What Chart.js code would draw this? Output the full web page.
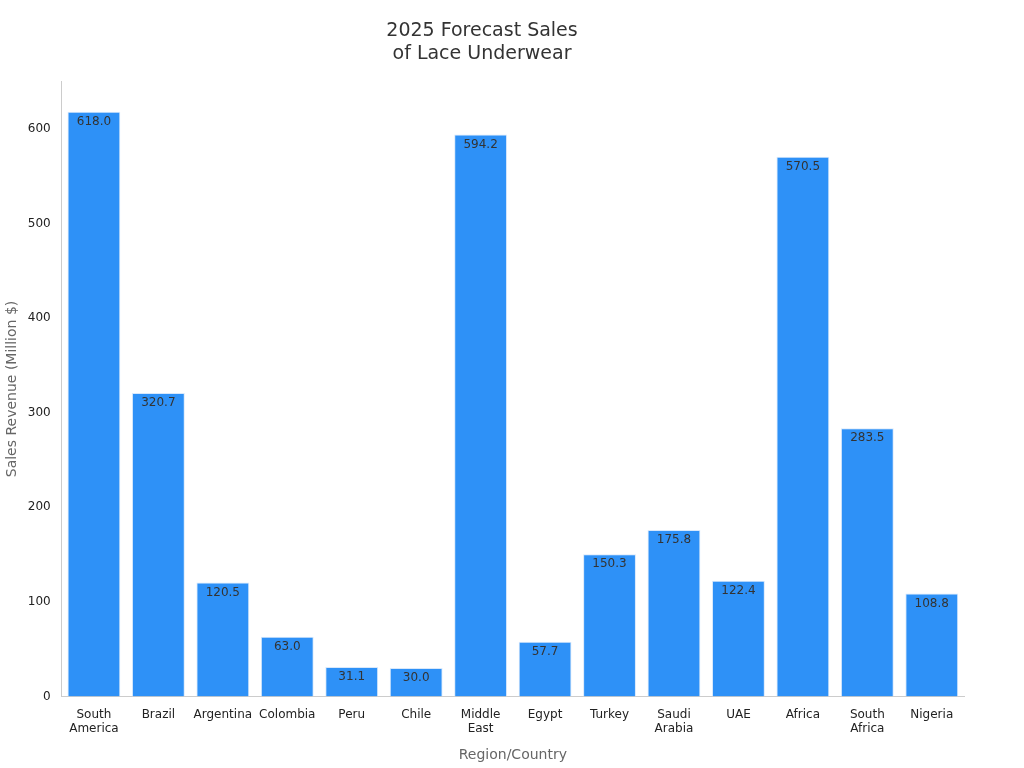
<!DOCTYPE html>
<html lang="en">
<head>
    <meta charset="UTF-8">
    <title>2025 Forecast Sales of Lace Underwear</title>
    <style>
        body { margin: 0; background: #fff; font-family: "DejaVu Sans", sans-serif; }
        .wrap { width: 1024px; height: 768px; }
    </style>
</head>
<body>
    <div class="wrap"><canvas id="chart"></canvas></div>
    <script src="https://cdn.jsdelivr.net/npm/chart.js"></script>
    <script>
        const regions = [['South', 'America'], 'Brazil', 'Argentina', 'Colombia', 'Peru', 'Chile',
            ['Middle', 'East'], 'Egypt', 'Turkey', ['Saudi', 'Arabia'], 'UAE', 'Africa', ['South', 'Africa'], 'Nigeria'];
        const sales = [618.0, 320.7, 120.5, 63.0, 31.1, 30.0, 594.2, 57.7, 150.3, 175.8, 122.4, 570.5, 283.5, 108.8];

        // draws value labels just inside the top of each bar
        const valueLabels = {
            id: 'valueLabels',
            afterDatasetsDraw(chart) {
                const ctx = chart.ctx;
                const meta = chart.getDatasetMeta(0);
                ctx.save();
                ctx.font = '12px "DejaVu Sans"';
                ctx.fillStyle = '#333';
                ctx.textAlign = 'center';
                ctx.textBaseline = 'top';
                meta.data.forEach((bar, i) => {
                    ctx.fillText(sales[i].toFixed(1), bar.x, bar.y + 4);
                });
                ctx.restore();
            }
        };

        new Chart(document.getElementById('chart'), {
            type: 'bar',
            data: {
                labels: regions,
                datasets: [{
                    data: sales,
                    backgroundColor: '#2e91f7',
                    borderColor: '#d8e8fb',
                    borderWidth: 1,
                    barPercentage: 0.82,
                    categoryPercentage: 1
                }]
            },
            options: {
                responsive: true,
                maintainAspectRatio: false,
                animation: false,
                layout: { padding: { left: 0, right: 60, top: 10, bottom: 0 } },
                plugins: {
                    legend: { display: false },
                    tooltip: { enabled: false },
                    title: {
                        display: true,
                        text: ['2025 Forecast Sales', 'of Lace Underwear'],
                        color: '#333',
                        font: { family: 'DejaVu Sans', size: 19, weight: 'normal' },
                        padding: { top: 10, bottom: 16 }
                    }
                },
                scales: {
                    x: {
                        grid: { display: false, drawTicks: true },
                        border: { color: '#ccc' },
                        ticks: { color: '#222', font: { family: 'DejaVu Sans', size: 12 }, maxRotation: 0, autoSkip: false },
                        title: { display: true, text: 'Region/Country', color: '#666', font: { family: 'DejaVu Sans', size: 14 }, padding: { top: 8 } }
                    },
                    y: {
                        min: 0,
                        max: 650,
                        grid: { display: false },
                        border: { color: '#ccc' },
                        afterBuildTicks: axis => { axis.ticks = [0, 100, 200, 300, 400, 500, 600].map(v => ({ value: v })); },
                        ticks: { color: '#222', font: { family: 'DejaVu Sans', size: 12 } },
                        title: { display: true, text: 'Sales Revenue (Million $)', color: '#666', font: { family: 'DejaVu Sans', size: 14 } }
                    }
                }
            },
            plugins: [valueLabels]
        });
    </script>
</body>
</html>
